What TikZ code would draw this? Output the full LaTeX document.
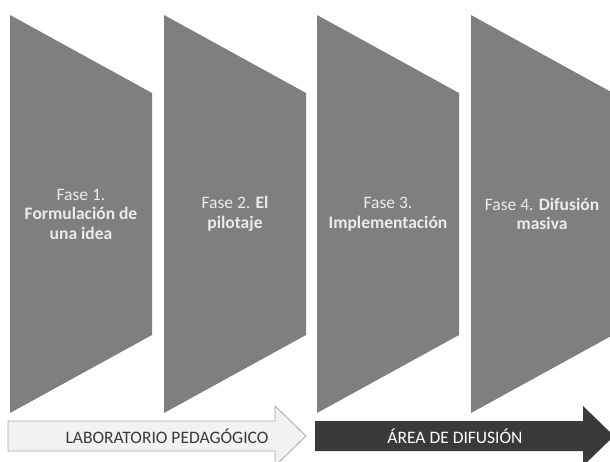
\documentclass[tikz,border=0pt]{standalone}
\usepackage{fontspec}
\setmainfont{Carlito}
\usepackage{xcolor}
\definecolor{fasegris}{HTML}{7F7F7F}
\definecolor{fasetexto}{HTML}{EBEBEB}
\definecolor{labfondo}{HTML}{F2F2F2}
\definecolor{labborde}{HTML}{A6A6A6}
\definecolor{labtexto}{HTML}{3A3A3A}
\definecolor{difondo}{HTML}{3A3A3A}

\begin{document}
\begin{tikzpicture}[x=1pt,y=-1pt,
		fase/.style={
			fill=fasegris,
			draw=none,
		},
		fasetxt/.style={
			draw=none,
			text=fasetexto,
			align=center,
			font=\fontsize{17.5}{19.5}\selectfont,
		},
		flechatxt/.style={
			draw=none,
			font=\fontsize{17.5}{19}\selectfont,
		}]
		\useasboundingbox (0,0) rectangle (610,462);
		\clip (0,0) rectangle (610,462);
		\def\fw{142}; \def\ftop{15}; \def\fbot{413}; \def\fdy{78}; \def\fy{214};

		\def\fx{10};
			\fill[fase] (\fx,\ftop) -- (\fx+\fw,\ftop+\fdy) -- (\fx+\fw,\fbot-\fdy) -- (\fx,\fbot) -- cycle;
			\node[fasetxt] (fase1) at (\fx+\fw/2,\fy) {Fase 1.\\ \textbf{Formulación de}\\ \textbf{una idea}};
		\def\fx{164};
			\fill[fase] (\fx,\ftop) -- (\fx+\fw,\ftop+\fdy) -- (\fx+\fw,\fbot-\fdy) -- (\fx,\fbot) -- cycle;
			\node[fasetxt] (fase2) at (\fx+\fw/2,\fy) {Fase 2. \textbf{El}\\ \textbf{pilotaje}};
		\def\fx{317};
			\fill[fase] (\fx,\ftop) -- (\fx+\fw,\ftop+\fdy) -- (\fx+\fw,\fbot-\fdy) -- (\fx,\fbot) -- cycle;
			\node[fasetxt] (fase3) at (\fx+\fw/2,\fy) {Fase 3.\\ \textbf{Implementación}};
		\def\fx{471};
			\fill[fase] (\fx,\ftop) -- (\fx+\fw,\ftop+\fdy) -- (\fx+\fw,\fbot-\fdy) -- (\fx,\fbot) -- cycle;
			\node[fasetxt] (fase4) at (\fx+\fw/2,\fy) {Fase 4. \textbf{Difusión}\\ \textbf{masiva}};

		% flechas de abajo
		\def\ay{436}; \def\ah{15}; \def\ahh{30};
		\filldraw[fill=labfondo, draw=labborde, line width=.8pt] (8,\ay-\ah) -- (275,\ay-\ah) -- (275,\ay-\ahh) -- (306,\ay) -- (275,\ay+\ahh) -- (275,\ay+\ah) -- (8,\ay+\ah) -- cycle;
		\node[flechatxt, text=labtexto] (lab) at (167,\ay) {LABORATORIO PEDAGÓGICO};

		\fill[difondo] (315,\ay-\ah) -- (583,\ay-\ah) -- (583,\ay-\ahh) -- (614,\ay) -- (583,\ay+\ahh) -- (583,\ay+\ah) -- (315,\ay+\ah) -- cycle;
		\node[flechatxt, text=white] (dif) at (455,\ay) {ÁREA DE DIFUSIÓN};

	\end{tikzpicture}
\end{document}
